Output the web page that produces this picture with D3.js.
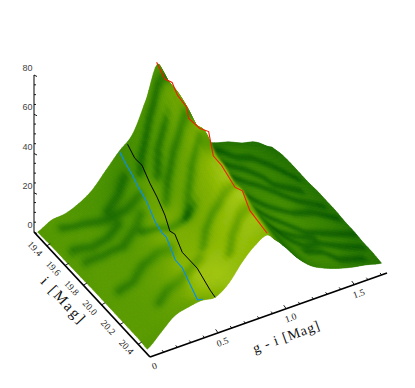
<!DOCTYPE html>
<html>
<head>
<meta charset="utf-8">
<title>CMD surface</title>
<style>
  html, body { margin: 0; background: #fff; }
  svg { display: block; }
</style>
</head>
<body>
<div class="area"></div>
<script src="https://cdn.jsdelivr.net/npm/d3@7"></script>
<script>
var w = 415, h = 388;

// surface samples, one row per i magnitude, one column per g-i colour
var iRows = [19.3, 19.4, 19.5, 19.6, 19.7, 19.8, 19.9, 20.0, 20.1, 20.2, 20.3, 20.4, 20.5];
var giCols = [0, .1, .2, .3, .4, .5, .6, .7, .8, .88, .94, 1.0, 1.1, 1.2, 1.3, 1.4, 1.5, 1.6, 1.72];
var heights = [
  [2, 5.5, 6.3, 9, 13.5, 21, 28.5, 35, 50.5, 66, 55, 45, 28, 19, 15.5, 13.5, 10.5, 8.5, 3],
  [2.3, 5.5, 7, 10, 14, 20, 27, 34, 48, 62.5, 53, 44, 27, 18.5, 15, 13, 11, 8.5, 4.5],
  [2.5, 6, 8, 10.5, 14.5, 19.5, 26, 33, 47, 62, 52, 43, 26, 18, 14.5, 12.5, 10.5, 8.5, 5],
  [2.5, 6.5, 9, 11, 15, 19.5, 25, 31, 45, 59.5, 50, 41, 25, 17.5, 14, 12, 10, 8, 5],
  [2.7, 6.5, 9.5, 12, 15, 19, 24, 29, 42, 55.5, 47, 39, 24, 17, 13.5, 11.5, 9.5, 8, 5],
  [2.8, 7, 10.5, 12.5, 15, 18, 21, 28, 42, 57, 47, 38, 23.5, 16.5, 13, 11, 9, 7.5, 5.5],
  [3, 7, 11, 13, 15.5, 18.5, 20, 26, 38, 51, 43, 36, 23, 16, 12.5, 10.5, 9, 7.5, 5.5],
  [3, 7, 11.5, 14, 16, 18, 21, 26, 37, 49.5, 42, 35, 23, 16, 12.5, 10.5, 8.5, 7, 5.5],
  [3, 7.5, 12, 14, 14.5, 15.5, 19, 26, 36, 46.5, 40, 33.5, 23, 16, 12.5, 10, 8.5, 7, 5],
  [3, 8, 13, 15, 15.5, 17, 20, 27, 37, 47, 40, 33, 23, 16, 12, 10, 8, 6.5, 5],
  [3, 8, 13, 15.5, 15, 18, 20.5, 27, 35, 42.5, 37, 32, 22.5, 15.5, 12, 9.5, 8, 6.5, 4.5],
  [3, 8, 14, 16, 14, 18, 21, 28, 35, 41, 36, 31, 22, 15.5, 12, 9.5, 7.5, 6, 4.5],
  [2.5, 8.5, 14.5, 16.5, 17.5, 16.7, 21.5, 30, 36.3, 39, 35, 30.5, 22, 15.5, 11.8, 9.2, 7.3, 6, 4]
];
// brightness of the surface at the same samples
var brightness = [
  [.44, .46, .44, .42, .42, .4, .36, .38, .44, .42, .12, .1, .16, .2, .22, .21, .21, .2, .18],
  [.44, .46, .46, .42, .4, .36, .38, .42, .46, .54, .14, .1, .18, .24, .28, .32, .28, .24, .2],
  [.46, .46, .46, .44, .42, .42, .44, .44, .5, .6, .16, .11, .2, .28, .32, .32, .3, .26, .22],
  [.46, .46, .46, .44, .42, .46, .52, .46, .52, .6, .2, .11, .22, .3, .34, .34, .32, .28, .22],
  [.46, .48, .46, .44, .46, .52, .56, .5, .54, .64, .26, .12, .22, .3, .36, .36, .32, .28, .22],
  [.46, .48, .48, .46, .5, .58, .62, .54, .6, .7, .3, .13, .22, .3, .36, .36, .34, .28, .22],
  [.47, .48, .48, .48, .52, .62, .64, .56, .64, .76, .38, .13, .24, .32, .36, .38, .34, .3, .22],
  [.47, .48, .48, .5, .56, .64, .64, .6, .66, .84, .44, .14, .24, .32, .38, .38, .34, .3, .22],
  [.47, .48, .5, .52, .58, .68, .66, .64, .72, .88, .5, .16, .24, .34, .38, .38, .34, .3, .22],
  [.48, .48, .5, .54, .62, .74, .74, .7, .76, .88, .5, .16, .24, .34, .38, .38, .34, .3, .24],
  [.48, .48, .5, .56, .66, .82, .8, .74, .78, .86, .48, .18, .24, .34, .36, .38, .34, .3, .24],
  [.48, .48, .52, .56, .64, .8, .82, .76, .76, .8, .44, .18, .24, .32, .36, .36, .32, .28, .24],
  [.44, .46, .5, .52, .58, .64, .78, .74, .72, .7, .34, .2, .22, .28, .3, .3, .28, .26, .22]
];
// dark creases, as [g-i, i] pairs
var slopeCreases = [
  [[.88, 19.38], [.84, 19.36], [.78, 19.37], [.7, 19.42], [.67, 19.44], [.62, 19.5]],
  [[.88, 19.64], [.85, 19.63], [.78, 19.63], [.7, 19.68], [.64, 19.75]],
  [[.88, 19.86], [.85, 19.8], [.8, 19.8], [.74, 19.85], [.68, 19.92]],
  [[.88, 20.15], [.83, 20.1], [.76, 20.08], [.7, 20.1], [.64, 20.16]],
  [[.88, 20.3], [.82, 20.28], [.76, 20.3], [.7, 20.36]],
  [[.44, 19.8], [.53, 19.86], [.575, 19.89], [.66, 19.92], [.72, 19.93]],
  [[.8, 19.5], [.74, 19.52], [.68, 19.6]]
];
var plainCreases = [
  [[.12, 19.4], [.23, 19.46], [.34, 19.55], [.455, 19.6], [.54, 19.6]],
  [[.38, 19.5], [.47, 19.48], [.54, 19.44]],
  [[.08, 19.72], [.17, 19.77], [.29, 19.8], [.43, 19.74], [.49, 19.7]],
  [[.1, 20.05], [.18, 20.08], [.29, 20.02], [.41, 20.0], [.49, 20.02]],
  [[.07, 19.59], [.16, 19.66], [.26, 19.67], [.36, 19.64]],
  [[.2, 20.34], [.28, 20.3], [.37, 20.27], [.5, 20.23], [.58, 20.2]]
];
var backCreases = [
  [[1.15, 19.34], [1.29, 19.38], [1.36, 19.44], [1.47, 19.46], [1.56, 19.54], [1.66, 19.66]],
  [[1.1, 19.46], [1.25, 19.51], [1.35, 19.55], [1.43, 19.63], [1.46, 19.7], [1.6, 19.78]],
  [[1.1, 19.6], [1.25, 19.65], [1.35, 19.7], [1.43, 19.77], [1.53, 19.87], [1.66, 19.94]],
  [[1.05, 19.78], [1.2, 19.82], [1.28, 19.88], [1.42, 19.97], [1.56, 19.98], [1.68, 20.06]],
  [[1.02, 19.92], [1.15, 19.97], [1.27, 20.04], [1.4, 20.15], [1.57, 20.19], [1.7, 20.22]],
  [[1.09, 20.16], [1.24, 20.17], [1.41, 20.21]],
  [[1.15, 20.2], [1.31, 20.28], [1.42, 20.26], [1.57, 20.32], [1.68, 20.34]],
  [[1.27, 20.34], [1.39, 20.34], [1.46, 20.42], [1.62, 20.44]]
];

// the three tracks on the surface
var redI = [19.29, 19.38, 19.46, 19.52, 19.62, 19.64, 19.76, 19.86, 19.91, 20.0, 20.15, 20.23, 20.31, 20.5];
var redG = [.88, .88, .88, .88, .88, .88, .88, .88, .88, .88, .88, .88, .88, .88];
var redZ = [66.4, 62.3, 64.6, 61, 60, 55.4, 56.3, 59.6, 49.8, 49.5, 45.7, 48, 42, 39.9];
var blackI = [19.3, 19.4, 19.5, 19.61, 19.71, 19.82, 19.89, 19.96, 20.06, 20.27, 20.45, 20.52];
var blackG = [.66, .646, .632, .616, .602, .586, .575, .565, .552, .521, .495, .485];
var blackZ = [30.5, 28.7, 30.5, 27.3, 25.5, 22.2, 17.9, 20.1, 16.2, 19.4, 17.9, 18];
var blueI = [19.29, 19.37, 19.47, 19.55, 19.68, 19.8, 19.9, 19.96, 20.09, 20.19, 20.41, 20.49];
var blueG = [.61, .598, .582, .568, .546, .528, .511, .502, .481, .464, .429, .415];
var blueZ = [27.2, 25.8, 25.1, 23.8, 23.1, 19.2, 19.1, 20.2, 15.5, 17.1, 12.6, 17.2];

var zTicks = [0, 20, 40, 60, 80];
var zMinor = [5, 10, 15, 25, 30, 35, 45, 50, 55, 65, 70, 75];
var iTicks = [19.4, 19.6, 19.8, 20.0, 20.2, 20.4];
var giTicks = [0, .5, 1.0, 1.5];
var giMinor = [.1, .2, .3, .4, .6, .7, .8, .9, 1.1, 1.2, 1.3, 1.4, 1.6, 1.7];

// oblique view: every axis adds its own screen offset
var xI = d3.scaleLinear([19.26, 20.53], [34, 150]);
var yI = d3.scaleLinear([19.26, 20.53], [232, 357]);
var xG = d3.scaleLinear([0, 1.74], [0, 237]);
var yG = d3.scaleLinear([0, 1.74], [0, -84]);
var yZ = d3.scaleLinear([0, 80], [0, -157]);
var shadeColor = d3.scaleLinear()
  .domain([0, .2, .4, .6, .8, 1])
  .range(['#0b5500', '#1f6e00', '#4a9200', '#74a900', '#9cc20c', '#c8dc6a'])
  .clamp(true);

function project(g, i, z) {
  return [xI(i) + xG(g), yI(i) + yG(g) + yZ(z)];
}

// bilinear, enough for the brightness
function sample(grid, r, c) {
  var r0 = Math.min(Math.floor(r), grid.length - 2), c0 = Math.min(Math.floor(c), grid[0].length - 2);
  var fr = r - r0, fc = c - c0;
  return (grid[r0][c0] * (1 - fc) + grid[r0][c0 + 1] * fc) * (1 - fr) +
         (grid[r0 + 1][c0] * (1 - fc) + grid[r0 + 1][c0 + 1] * fc) * fr;
}

// smooth mesh between the height samples
function cr(a, b, c, d, t) {
  return .5 * (2 * b + (c - a) * t + (2 * a - 5 * b + 4 * c - d) * t * t + (3 * b - a - 3 * c + d) * t * t * t);
}
function heightAt(r, c) {
  var nr = heights.length, nc = heights[0].length;
  var r0 = Math.min(Math.floor(r), nr - 2), c0 = Math.min(Math.floor(c), nc - 2);
  function rowAt(k) {
    var row = heights[Math.max(0, Math.min(nr - 1, k))];
    return cr(row[Math.max(0, c0 - 1)], row[c0], row[c0 + 1], row[Math.min(nc - 1, c0 + 2)], c - c0);
  }
  return cr(rowAt(r0 - 1), rowAt(r0), rowAt(r0 + 1), rowAt(r0 + 2), r - r0);
}

function giAt(c) {
  var c0 = Math.min(Math.floor(c), giCols.length - 2);
  return giCols[c0] + (giCols[c0 + 1] - giCols[c0]) * (c - c0);
}
function iAt(r) { return iRows[0] + (iRows[1] - iRows[0]) * r; }

function segDist(px, py, a, b) {
  var ax = a[0] * 136, ay = a[1] * 100, bx = b[0] * 136, by = b[1] * 100;
  var dx = bx - ax, dy = by - ay;
  var t = Math.max(0, Math.min(1, ((px - ax) * dx + (py - ay) * dy) / (dx * dx + dy * dy)));
  return Math.hypot(px - ax - t * dx, py - ay - t * dy);
}

function darken(lines, depth, spread, px, py) {
  var total = 0;
  lines.forEach(function(pts) {
    var d = Infinity;
    for (var k = 0; k < pts.length - 1; k++) d = Math.min(d, segDist(px, py, pts[k], pts[k + 1]));
    total += depth * Math.exp(-d * d / spread);
  });
  return total;
}

function shadeAt(r, c) {
  var px = giAt(c) * 136, py = iAt(r) * 100;
  return sample(brightness, r, c)
    - darken(slopeCreases, .24, 14, px, py)
    - darken(plainCreases, .2, 20, px, py)
    - darken(backCreases, .22, 12, px, py);
}

var svg = d3.select('.area').append('svg').attr('width', w).attr('height', h);
var line = d3.line();
var defs = svg.append('defs');
defs.append('filter').attr('id', 'soft').append('feGaussianBlur').attr('stdDeviation', .8);

function corner(r, c) {
  return project(giAt(c), iAt(r), heightAt(r, c));
}
function quad(r0, r1, c0, c1) {
  return line([corner(r0, c0), corner(r0, c1), corner(r1, c1), corner(r1, c0)]) + 'Z';
}

// painter's order, far corner first
var cells = [];
var nR = 7, nC = 5;
for (var r = 0; r < (iRows.length - 1) * nR; r++) {
  for (var c = (giCols.length - 1) * nC - 1; c >= 0; c--) {
    cells.push({
      d: quad(r / nR, (r + 1) / nR, c / nC, (c + 1) / nC),
      fill: shadeColor(shadeAt((r + .5) / nR, (c + .5) / nC))
    });
  }
}

function drawMesh(g) {
  g.selectAll('path').data(cells).enter().append('path')
    .attr('d', function(d) { return d.d; })
    .attr('fill', function(d) { return d.fill; })
    .attr('stroke', function(d) { return d.fill; })
    .attr('stroke-width', .5);
}

// clip to the union of the cells, keeps the outline hard under the blur
var clip = defs.append('clipPath').attr('id', 'outline');
clip.selectAll('path').data(cells).enter().append('path').attr('d', function(d) { return d.d; });

drawMesh(svg.append('g'));
drawMesh(svg.append('g').attr('clip-path', 'url(#outline)').append('g').attr('filter', 'url(#soft)'));

// tracks
function track(is, gs, zs, color, width) {
  svg.append('path')
    .attr('d', line(is.map(function(v, k) { return project(gs[k], v, zs[k]); })))
    .attr('fill', 'none').attr('stroke', color).attr('stroke-width', width);
}
track(blueI, blueG, blueZ, '#0c8ee8', 1.2);
track(blackI, blackG, blackZ, '#000', 1);
track(redI, redG, redZ, '#f01e00', 1.1);

// axes
var iStart = xI.domain()[0], iEnd = xI.domain()[1], giEnd = xG.domain()[1];
var origin = project(0, iStart, 0), front = project(0, iEnd, 0);
svg.append('path').attr('d', line([origin, project(0, iStart, 80)]))
  .attr('stroke', '#808080').attr('stroke-width', 2).attr('fill', 'none');
svg.append('path').attr('d', line([origin, front]))
  .attr('stroke', '#000').attr('stroke-width', 1.8).attr('fill', 'none');
svg.append('path').attr('d', line([front, project(giEnd, iEnd, 0)]))
  .attr('stroke', '#000').attr('stroke-width', 1.8).attr('fill', 'none');

function tick(from, dx, dy) {
  svg.append('path').attr('d', line([from, [from[0] + dx, from[1] + dy]]))
    .attr('stroke', '#000').attr('stroke-width', .9);
}
zMinor.forEach(function(v) { tick(project(0, iStart, v), 2, 0); });
zTicks.forEach(function(v) { tick(project(0, iStart, v), 3, 1.5); });
iTicks.forEach(function(v) { tick(project(0, v, 0), 3.5, -2); });
giMinor.forEach(function(v) { tick(project(v, iEnd, 0), -1.5, -2); });
giTicks.slice(1).forEach(function(v) { tick(project(v, iEnd, 0), -2.5, -3.5); });

var serif = 'Liberation Serif';
svg.selectAll('.ztick').data(zTicks).enter().append('text')
  .attr('x', 32.5).attr('y', function(d) { return project(0, iStart, d)[1] - 4; })
  .attr('text-anchor', 'end')
  .attr('font-family', 'Liberation Sans').attr('font-size', 9).attr('fill', '#444')
  .text(function(d) { return d; });
svg.selectAll('.itick').data(iTicks).enter().append('text')
  .attr('transform', function(d) {
    var p = project(0, d, 0);
    return 'translate(' + (p[0] - 14) + ',' + (p[1] + 5) + ') rotate(47)';
  })
  .attr('text-anchor', 'middle').attr('font-family', serif).attr('font-size', 9.5).attr('fill', '#222')
  .text(function(d) { return d.toFixed(1); });
svg.selectAll('.gtick').data(giTicks).enter().append('text')
  .attr('transform', function(d) {
    var p = project(d, iEnd, 0);
    return 'translate(' + (p[0] + 5.5) + ',' + (p[1] + 12) + ') rotate(-20)';
  })
  .attr('text-anchor', 'middle').attr('font-family', serif).attr('font-size', 9.5).attr('fill', '#222')
  .text(function(d) { return d === 0 ? '0' : d.toFixed(1); });

svg.append('text').attr('transform', 'translate(60,304) rotate(47)')
  .attr('text-anchor', 'middle').attr('font-family', serif).attr('font-size', 15).attr('letter-spacing', 2)
  .attr('fill', '#111').text('i [Mag]');
svg.append('text').attr('transform', 'translate(288,341) rotate(-20)')
  .attr('text-anchor', 'middle').attr('font-family', serif).attr('font-size', 14).attr('letter-spacing', .9)
  .attr('fill', '#111').text('g - i [Mag]');
</script>
</body>
</html>
